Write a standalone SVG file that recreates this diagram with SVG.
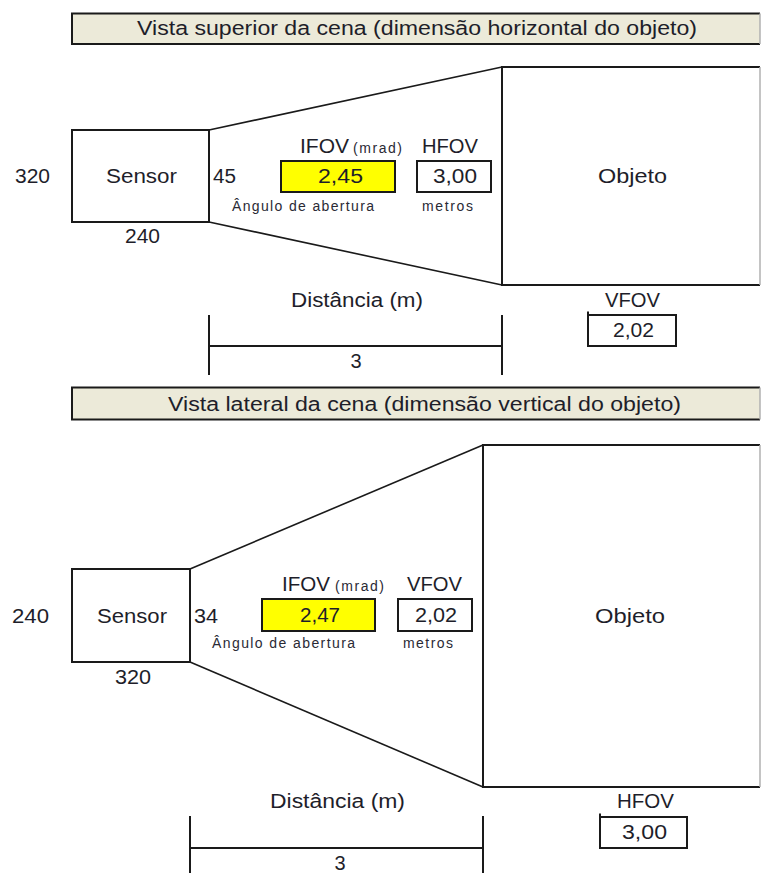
<svg xmlns="http://www.w3.org/2000/svg" width="761" height="873" viewBox="0 0 761 873">
<style>
  text { font-family: "Liberation Sans", Arial, sans-serif; fill: #1e1e2a; }
  .t { font-size: 20px; }
  .s { font-size: 14px; fill: #2a2a35; }
  .box { fill: #ffffff; stroke: #1a1a1a; stroke-width: 2; }
  .yel { fill: #ffff00; stroke: #1a1a1a; stroke-width: 2; }
  .bar { fill: #ecead9; stroke: none; }
  .edge { fill: none; stroke: #1a1a1a; stroke-width: 2; }
  .gray { fill: none; stroke: #b0b0b0; stroke-width: 1.5; }
  .ray { fill: none; stroke: #1a1a1a; stroke-width: 1.6; }
  .dim { fill: none; stroke: #1a1a1a; stroke-width: 2; }
</style>
<rect width="761" height="873" fill="#ffffff"/>

<!-- ===== Top view ===== -->
<g id="title-top">
  <rect class="bar" x="72" y="13.5" width="688" height="30.5"/>
  <path class="edge" d="M760 13.5 H72 V44 H760"/>
  <line class="gray" x1="760" y1="13.5" x2="760" y2="44"/>
  <text class="t" x="137" y="35" textLength="560" lengthAdjust="spacingAndGlyphs">Vista superior da cena (dimensão horizontal do objeto)</text>
</g>

<g id="sensor-top">
  <rect class="box" x="72" y="130" width="137" height="92"/>
  <text class="t" x="106" y="183" textLength="71" lengthAdjust="spacingAndGlyphs">Sensor</text>
  <text class="t" x="15" y="183" textLength="35" lengthAdjust="spacingAndGlyphs">320</text>
  <text class="t" x="125" y="243" textLength="35" lengthAdjust="spacingAndGlyphs">240</text>
  <text class="t" x="213" y="182.5" textLength="23" lengthAdjust="spacingAndGlyphs">45</text>
</g>

<g id="ifov-top">
  <text class="t" x="300" y="153" textLength="49" lengthAdjust="spacingAndGlyphs">IFOV</text>
  <text class="s" x="353" y="153" textLength="49" lengthAdjust="spacing">(mrad)</text>
  <rect class="yel" x="281" y="161" width="114" height="31"/>
  <text class="t" x="318" y="183" textLength="45" lengthAdjust="spacingAndGlyphs">2,45</text>
  <text class="s" x="232" y="211" textLength="142" lengthAdjust="spacing">Ângulo de abertura</text>
</g>

<g id="hfov-top">
  <text class="t" x="422" y="153" textLength="56" lengthAdjust="spacingAndGlyphs">HFOV</text>
  <rect class="box" x="417" y="161" width="74" height="31"/>
  <text class="t" x="433" y="183" textLength="44" lengthAdjust="spacingAndGlyphs">3,00</text>
  <text class="s" x="422" y="211" textLength="51" lengthAdjust="spacing">metros</text>
</g>

<g id="objeto-top">
  <rect x="502" y="67" width="258" height="218" fill="#ffffff"/>
  <path class="edge" d="M760 67 H502 V285 H760"/>
  <line class="gray" x1="760" y1="67" x2="760" y2="285"/>
  <text class="t" x="598" y="183" textLength="69" lengthAdjust="spacingAndGlyphs">Objeto</text>
</g>

<g id="vfov-top">
  <text class="t" x="605" y="307" textLength="55" lengthAdjust="spacingAndGlyphs">VFOV</text>
  <rect class="box" x="588" y="315" width="88" height="31"/>
  <line class="edge" x1="588" y1="311.5" x2="588" y2="315"/>
  <text class="t" x="613" y="337" textLength="41" lengthAdjust="spacingAndGlyphs">2,02</text>
</g>

<g id="distance-top">
  <text class="t" x="291" y="307" textLength="132" lengthAdjust="spacingAndGlyphs">Distância (m)</text>
  <path class="dim" d="M209 315 V375 M502 315 V375 M209 346 H502"/>
  <text class="t" x="350.5" y="368">3</text>
</g>

<!-- ===== Side view ===== -->
<g id="title-side">
  <rect class="bar" x="72" y="387.5" width="688" height="32"/>
  <path class="edge" d="M760 387.5 H72 V419.5 H760"/>
  <line class="gray" x1="760" y1="387.5" x2="760" y2="419.5"/>
  <text class="t" x="168" y="410.5" textLength="513" lengthAdjust="spacingAndGlyphs">Vista lateral da cena (dimensão vertical do objeto)</text>
</g>

<g id="sensor-side">
  <rect class="box" x="72" y="569" width="118" height="93"/>
  <text class="t" x="97" y="623" textLength="70" lengthAdjust="spacingAndGlyphs">Sensor</text>
  <text class="t" x="12" y="623" textLength="37" lengthAdjust="spacingAndGlyphs">240</text>
  <text class="t" x="115" y="684" textLength="36" lengthAdjust="spacingAndGlyphs">320</text>
  <text class="t" x="194" y="623" textLength="24" lengthAdjust="spacingAndGlyphs">34</text>
</g>

<g id="ifov-side">
  <text class="t" x="282" y="591" textLength="48" lengthAdjust="spacingAndGlyphs">IFOV</text>
  <text class="s" x="335" y="591" textLength="49" lengthAdjust="spacing">(mrad)</text>
  <rect class="yel" x="262" y="599" width="113" height="32"/>
  <text class="t" x="300" y="622" textLength="40" lengthAdjust="spacingAndGlyphs">2,47</text>
  <text class="s" x="212" y="648" textLength="143" lengthAdjust="spacing">Ângulo de abertura</text>
</g>

<g id="vfov-side">
  <text class="t" x="407" y="591" textLength="55" lengthAdjust="spacingAndGlyphs">VFOV</text>
  <rect class="box" x="398" y="599" width="74" height="32"/>
  <text class="t" x="415" y="622" textLength="42" lengthAdjust="spacingAndGlyphs">2,02</text>
  <text class="s" x="403" y="648" textLength="50" lengthAdjust="spacing">metros</text>
</g>

<g id="objeto-side">
  <rect x="483" y="445" width="277" height="342" fill="#ffffff"/>
  <path class="edge" d="M760 445 H483 V787 H760"/>
  <line class="gray" x1="760" y1="445" x2="760" y2="787"/>
  <text class="t" x="595" y="623" textLength="70" lengthAdjust="spacingAndGlyphs">Objeto</text>
</g>

<g id="hfov-side">
  <text class="t" x="617" y="808" textLength="57" lengthAdjust="spacingAndGlyphs">HFOV</text>
  <rect class="box" x="600" y="817" width="87" height="31"/>
  <line class="edge" x1="600" y1="813.5" x2="600" y2="817"/>
  <text class="t" x="622" y="839" textLength="45" lengthAdjust="spacingAndGlyphs">3,00</text>
</g>

<g id="distance-side">
  <text class="t" x="270" y="808" textLength="135" lengthAdjust="spacingAndGlyphs">Distância (m)</text>
  <path class="dim" d="M190 816 V875 M483 816 V875 M190 848 H483"/>
  <text class="t" x="334.5" y="870">3</text>
</g>

<!-- ===== Connectors (field-of-view rays) ===== -->
<g id="connectors">
  <line class="ray" x1="209" y1="130" x2="502" y2="67"/>
  <line class="ray" x1="209" y1="222" x2="502" y2="285"/>
  <line class="ray" x1="190" y1="569" x2="483" y2="445"/>
  <line class="ray" x1="190" y1="662" x2="483" y2="787"/>
</g>
</svg>
